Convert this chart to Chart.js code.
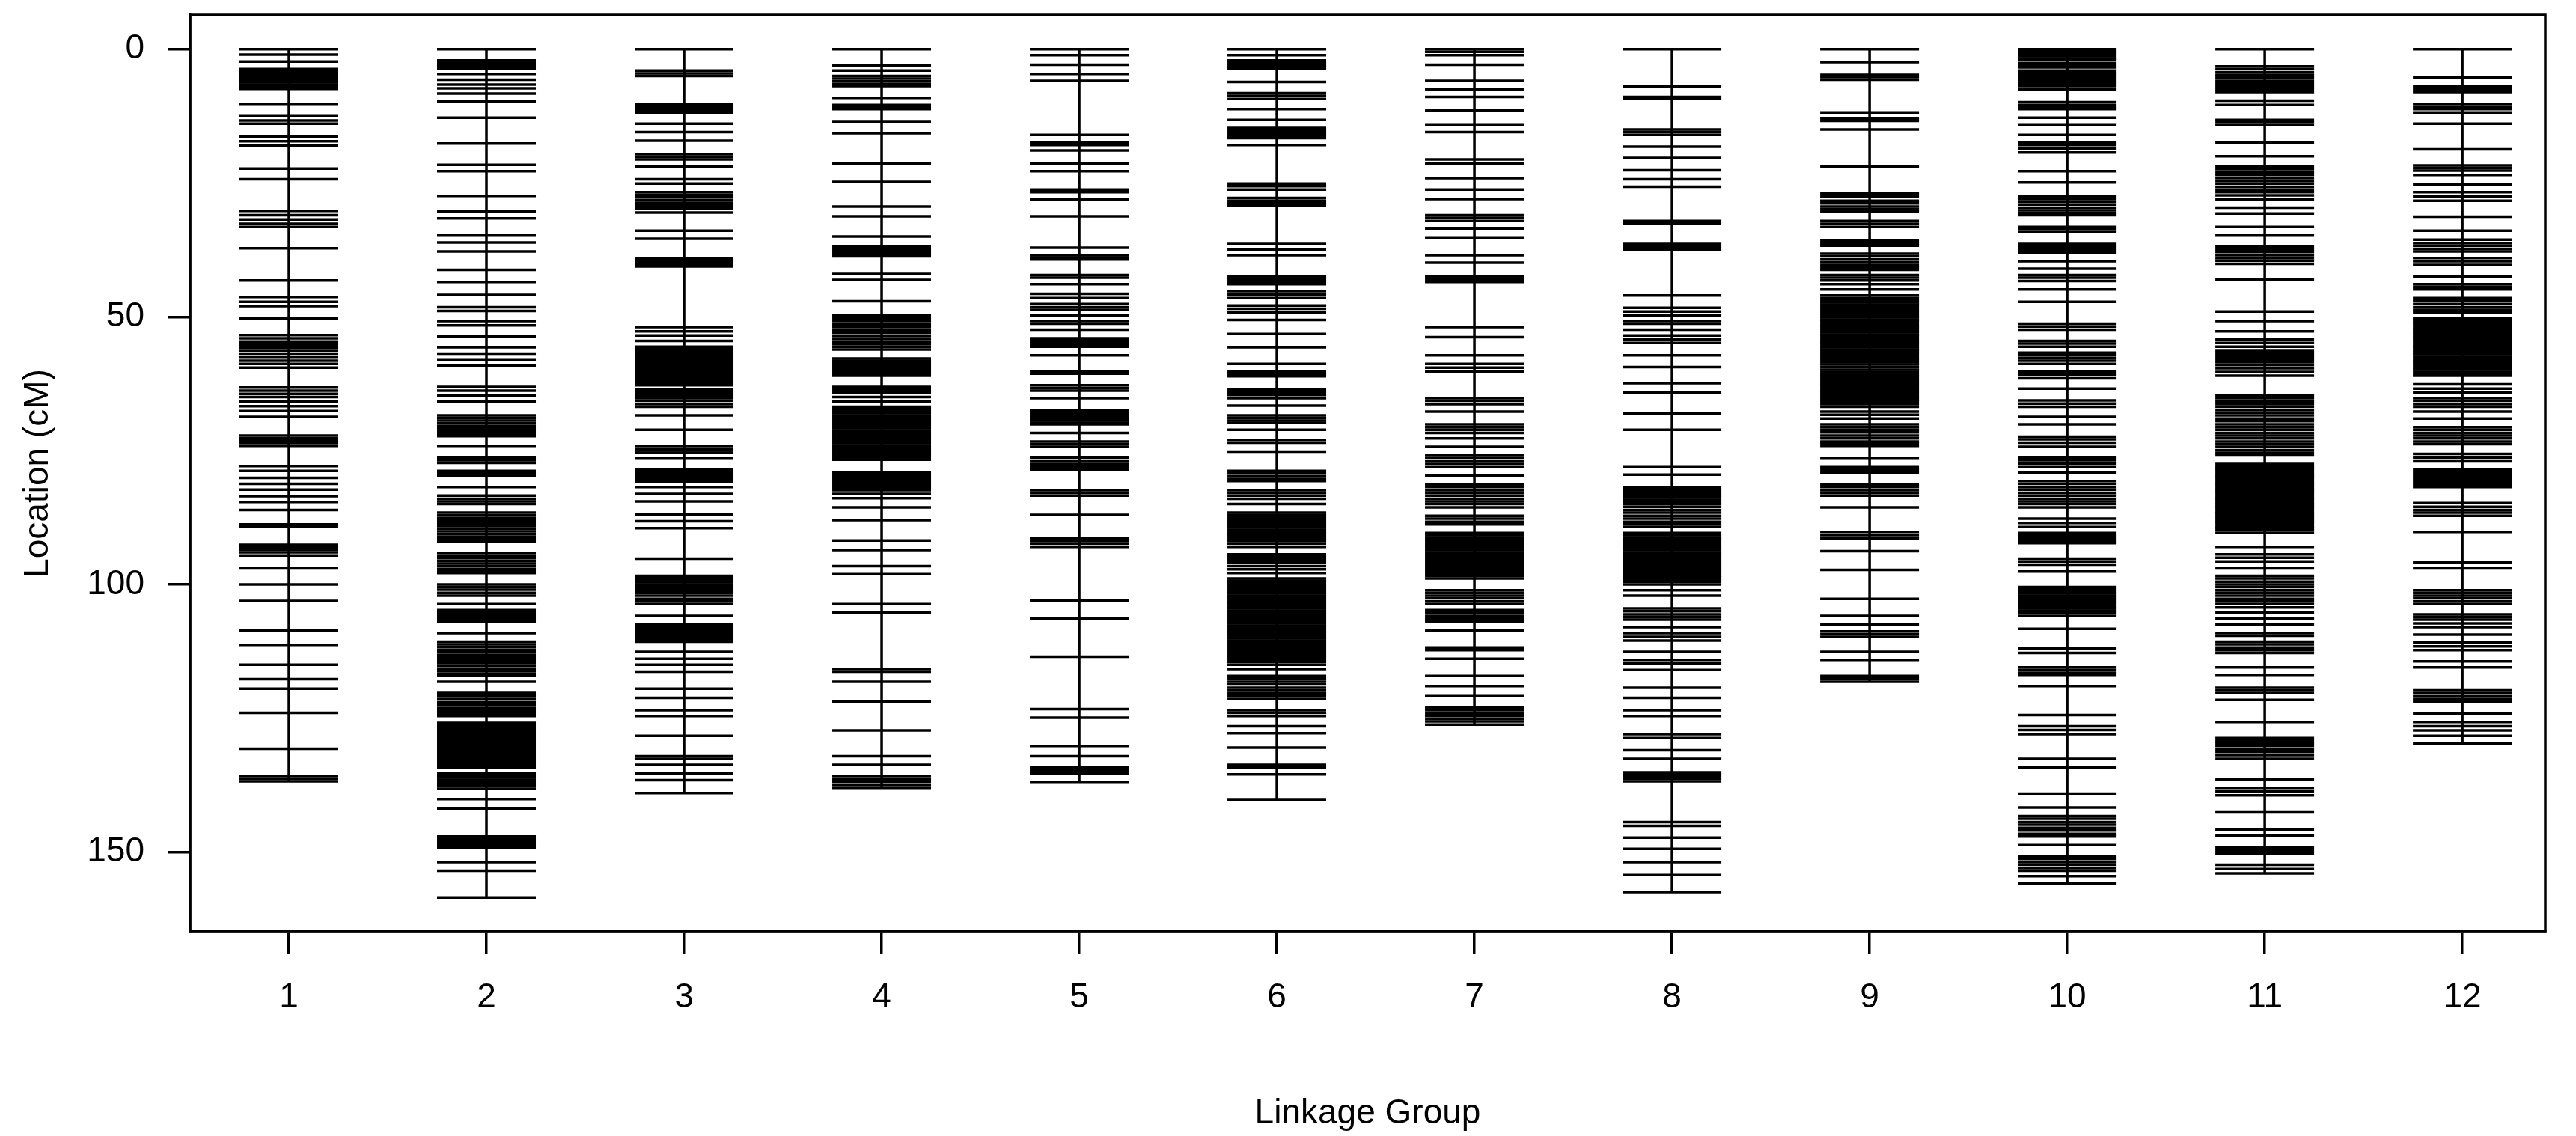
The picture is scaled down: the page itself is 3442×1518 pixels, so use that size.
<!DOCTYPE html>
<html lang="en">
<head>
<meta charset="UTF-8">
<title>Linkage Map</title>
<script src="https://cdn.jsdelivr.net/npm/chart.js"></script>
<style>
  body { margin: 0; padding: 0; background: #fff; }
  #wrap { width: 3442px; height: 1518px; }
</style>
</head>
<body>
<div id="wrap"><canvas id="myChart" width="3442" height="1518"></canvas></div>
<script>
// marker positions (cM) for each linkage group
const groups = [1, 2, 3, 4, 5, 6, 7, 8, 9, 10, 11, 12];
const yTicks = [0, 50, 100, 150];

const lg1 = [0, 1.0, 2.3, 3.7, 4.2, 4.6, 5.0, 5.4, 5.8, 6.2, 6.6, 7.0, 7.4, 10.2, 12.5, 13.3, 13.9, 16.3, 17.2, 18.0, 22.3, 24.3,
  30.2, 31.0, 31.8, 32.6, 33.2, 37.2, 43.2, 46.3, 47.2, 48.0, 50.3, 53.4, 54.0, 54.6, 55.2, 55.8, 56.4, 57.0, 57.6, 58.2, 58.8, 59.5,
  63.2, 63.8, 64.4, 65.0, 65.8, 66.7, 67.6, 68.7, 72.2, 72.7, 73.1, 73.6, 74.1, 77.9, 78.8, 80.1, 81.2, 82.3, 83.5, 84.6, 86.1,
  88.8, 89.2, 92.6, 93.1, 93.5, 94.0, 94.6, 97.0, 100.0, 103.1, 108.6, 111.3, 115.0, 117.7, 119.5, 124.0, 130.7, 135.8, 136.3, 136.8];

const lg2 = [0, 2.1, 2.5, 2.9, 3.3, 3.7, 4.6, 5.7, 6.6, 7.3, 8.3, 9.8, 12.8, 17.6, 21.6, 22.8, 27.4, 30.3, 31.6, 34.8, 36.1, 37.8,
  41.2, 43.5, 45.9, 48.2, 48.9, 50.8, 51.6, 53.7, 55.7, 57.0, 58.1, 59.1, 63.1, 63.8, 64.7, 65.8, 68.4, 68.9, 69.4, 69.9, 70.4,
  70.9, 71.4, 71.9, 72.3, 74.1, 76.3, 76.8, 77.3, 78.8, 79.3, 79.7, 81.8, 83.4, 84.0, 84.5, 85.0, 86.6, 87.1, 87.6, 88.1, 88.6,
  89.1, 89.6, 90.1, 90.6, 91.1, 91.5, 92.0, 94.1, 94.6, 95.1, 95.6, 96.1, 96.6, 97.1, 97.5, 97.9, 100.0, 100.5, 101.0, 101.6,
  102.1, 103.7, 104.8, 105.3, 105.8, 106.4, 106.9, 109.1, 110.7, 111.2, 111.7, 112.2, 112.7, 113.2, 113.7, 114.2, 114.7, 115.2,
  115.7, 116.2, 116.7, 117.1, 118.2, 120.3, 120.8, 121.4, 122.0, 122.5, 123.1, 123.6, 124.1, 124.6, 125.9, 126.3, 126.7, 127.1,
  127.5, 127.9, 128.3, 128.7, 129.1, 129.5, 129.9, 130.3, 130.7, 131.1, 131.5, 131.9, 132.3, 132.7, 133.1, 133.5, 133.9, 134.2,
  135.3, 135.7, 136.1, 136.5, 136.9, 137.3, 137.7, 138.2, 140.1, 141.9, 147.1, 147.5, 147.9, 148.3, 148.7, 149.2, 151.9, 153.5, 158.5];

const lg3 = [0, 4.0, 4.5, 5.0, 10.2, 10.6, 11.0, 11.4, 11.8, 13.9, 15.5, 17.1, 19.6, 20.1, 20.6, 21.9, 24.3, 25.1, 26.7, 27.2,
  27.7, 28.2, 28.7, 29.2, 29.7, 30.5, 33.9, 35.4, 39.0, 39.4, 39.8, 40.2, 40.6, 51.9, 52.7, 53.5, 54.5, 55.6, 56.0, 56.4, 56.8,
  57.2, 57.6, 58.0, 58.4, 58.8, 59.2, 59.6, 60.0, 60.4, 60.8, 61.2, 61.6, 62.0, 62.4, 62.8, 63.6, 64.2, 64.7, 65.2, 65.7, 66.3,
  66.8, 68.4, 71.1, 74.1, 74.6, 75.0, 75.4, 76.5, 78.6, 79.1, 79.7, 80.2, 80.8, 81.8, 83.1, 84.5, 86.9, 88.2, 89.5, 95.2, 98.4,
  98.8, 99.2, 99.6, 100.0, 100.4, 100.8, 101.2, 101.6, 102.1, 102.7, 103.2, 103.7, 105.9, 107.5, 107.9, 108.3, 108.7, 109.1,
  109.5, 109.9, 110.3, 110.7, 112.6, 113.9, 115.0, 116.3, 119.5, 121.2, 123.5, 124.6, 128.3, 132.1, 132.6, 133.7, 135.3, 136.6, 139.0];

const lg4 = [0, 3.0, 4.0, 5.0, 5.5, 6.0, 6.5, 6.9, 9.1, 10.4, 10.8, 11.2, 13.6, 15.7, 21.4, 24.8, 29.4, 31.2, 35.0, 36.9, 37.4,
  37.9, 38.3, 38.7, 42.0, 43.1, 47.1, 49.7, 50.3, 50.8, 51.4, 51.9, 52.5, 53.0, 53.6, 54.1, 54.6, 55.1, 55.6, 56.1, 57.8, 58.2,
  58.6, 59.0, 59.4, 59.8, 60.2, 60.6, 61.0, 63.1, 63.6, 64.2, 65.0, 65.8, 66.8, 67.2, 67.6, 68.0, 68.4, 68.8, 69.2, 69.6, 70.0,
  70.4, 70.8, 71.2, 71.6, 72.0, 72.4, 72.8, 73.2, 73.6, 74.0, 74.4, 74.8, 75.2, 75.6, 76.0, 76.4, 76.7, 79.1, 79.5, 79.9, 80.3,
  80.7, 81.1, 81.5, 81.9, 82.4, 83.1, 83.9, 85.6, 88.0, 91.8, 93.6, 96.6, 98.1, 103.7, 105.3, 115.8, 116.3, 118.2, 121.9, 127.3,
  132.1, 133.7, 135.8, 136.4, 136.9, 137.5, 138.0];

const lg5 = [0, 1.1, 2.9, 4.6, 5.9, 16.0, 17.4, 17.9, 18.9, 21.4, 22.8, 26.2, 26.7, 28.1, 31.2, 37.1, 38.5, 38.9, 39.3, 42.2,
  42.7, 43.9, 45.7, 46.5, 47.6, 48.2, 48.7, 49.7, 50.8, 51.3, 52.4, 54.0, 54.4, 54.8, 55.2, 55.6, 57.2, 60.2, 60.6, 62.8, 63.3,
  63.8, 65.2, 67.4, 67.8, 68.2, 68.6, 69.0, 69.4, 69.8, 70.1, 71.7, 73.3, 73.8, 74.3, 76.3, 77.0, 77.5, 77.9, 78.3, 78.6, 82.4,
  82.9, 83.4, 87.0, 91.4, 91.9, 92.4, 93.0, 103.0, 106.4, 113.5, 123.3, 124.9, 130.2, 132.1, 134.2, 134.6, 135.0, 135.3, 136.9];

const lg6 = [0, 1.1, 2.1, 2.5, 3.0, 3.4, 3.7, 6.1, 8.2, 8.7, 9.3, 11.2, 13.2, 14.7, 15.2, 15.8, 16.2, 16.6, 17.9, 25.1, 25.6,
  26.2, 27.8, 28.3, 28.8, 29.2, 36.4, 37.4, 38.5, 42.5, 43.0, 43.5, 43.9, 45.2, 45.8, 46.5, 47.9, 48.5, 49.2, 50.6, 53.2, 55.7,
  58.8, 60.2, 60.6, 61.1, 63.6, 64.1, 64.6, 65.2, 66.6, 68.4, 68.9, 69.4, 69.8, 71.1, 73.0, 73.5, 75.2, 78.8, 79.3, 79.8, 80.3,
  80.7, 82.4, 82.9, 83.4, 84.0, 85.0, 86.6, 87.0, 87.4, 87.8, 88.2, 88.6, 89.0, 89.4, 89.8, 90.2, 90.6, 91.0, 91.4, 91.9, 92.4,
  93.0, 94.4, 94.8, 95.2, 95.6, 96.0, 96.6, 97.2, 97.9, 98.9, 99.3, 99.7, 100.1, 100.5, 100.9, 101.3, 101.7, 102.1, 102.5, 102.9,
  103.3, 103.7, 104.1, 104.5, 104.9, 105.3, 105.7, 106.1, 106.5, 106.9, 107.3, 107.7, 108.1, 108.5, 108.9, 109.3, 109.7, 110.1,
  110.5, 110.9, 111.3, 111.7, 112.1, 112.5, 112.9, 113.3, 113.7, 114.1, 114.5, 115.0, 115.8, 117.1, 117.6, 118.2, 118.7, 119.3,
  119.8, 120.3, 120.8, 121.4, 123.5, 124.0, 124.6, 126.5, 127.8, 130.5, 133.7, 134.2, 135.5, 140.3];

const lg7 = [0, 0.5, 1.1, 2.9, 5.9, 7.5, 8.9, 11.4, 14.2, 15.5, 20.6, 21.4, 24.1, 26.2, 28.0, 31.0, 31.5, 32.1, 33.5, 35.3,
  38.5, 39.9, 42.5, 43.0, 43.5, 51.9, 53.8, 57.2, 58.8, 59.5, 60.2, 65.2, 65.7, 66.3, 67.7, 70.1, 70.6, 71.1, 71.7, 72.7, 74.3,
  75.9, 76.4, 77.0, 77.5, 78.1, 79.7, 81.3, 81.8, 82.4, 82.9, 83.4, 84.0, 84.5, 85.0, 85.6, 87.2, 87.7, 88.3, 88.8, 90.4, 90.8,
  91.2, 91.6, 92.0, 92.4, 92.8, 93.2, 93.6, 94.0, 94.4, 94.8, 95.2, 95.6, 96.0, 96.4, 96.8, 97.2, 97.6, 98.0, 98.4, 98.9, 101.1,
  101.6, 102.1, 102.6, 103.2, 103.7, 104.8, 105.3, 105.9, 106.4, 106.9, 108.6, 111.8, 112.3, 113.9, 117.1, 119.0, 120.9, 123.0,
  123.5, 124.1, 124.6, 125.1, 125.6, 126.2];

const lg8 = [0, 7.0, 8.9, 9.3, 15.0, 15.5, 16.0, 18.2, 20.3, 22.6, 24.3, 25.7, 32.1, 32.5, 36.4, 36.9, 37.4, 46.0, 48.3, 49.0,
  49.7, 50.8, 51.3, 52.4, 53.5, 54.2, 54.9, 57.2, 59.4, 62.4, 64.2, 68.1, 71.1, 78.1, 79.5, 81.8, 82.2, 82.6, 83.0, 83.4, 83.8,
  84.2, 84.6, 85.0, 85.5, 86.1, 86.6, 87.2, 87.7, 88.3, 88.8, 89.3, 90.4, 90.8, 91.2, 91.6, 92.0, 92.4, 92.8, 93.2, 93.6, 94.0,
  94.4, 94.8, 95.2, 95.6, 96.0, 96.4, 96.8, 97.2, 97.6, 98.0, 98.4, 98.7, 99.1, 99.5, 100.0, 101.1, 102.1, 104.5, 105.0, 105.6,
  106.1, 106.6, 108.0, 109.1, 109.8, 110.5, 112.6, 114.1, 114.8, 116.0, 119.3, 121.2, 123.5, 124.6, 128.0, 128.7, 131.0, 132.6,
  135.1, 135.5, 135.9, 136.3, 136.8, 144.4, 145.1, 147.3, 149.4, 151.9, 154.3, 157.5];

const lg9 = [0, 2.4, 4.8, 5.2, 5.7, 11.8, 13.0, 13.4, 15.0, 21.9, 27.0, 27.5, 28.3, 28.8, 29.4, 29.9, 30.3, 32.1, 32.6, 33.2,
  35.8, 36.3, 36.7, 38.2, 38.7, 39.3, 39.8, 40.3, 40.8, 41.2, 42.2, 42.7, 43.2, 43.9, 44.9, 46.0, 46.5, 46.9, 47.3, 47.7, 48.1,
  48.5, 48.9, 49.3, 49.7, 50.1, 50.5, 50.9, 51.3, 51.7, 52.1, 52.5, 52.9, 53.3, 53.7, 54.1, 54.5, 54.9, 55.3, 55.7, 56.1, 56.5,
  56.9, 57.3, 57.7, 58.1, 58.5, 58.9, 59.4, 59.9, 60.3, 60.7, 61.1, 61.5, 61.9, 62.3, 62.7, 63.1, 63.5, 63.9, 64.3, 64.7, 65.1,
  65.5, 65.9, 66.3, 66.8, 67.7, 68.3, 69.0, 70.1, 70.6, 71.1, 71.6, 72.2, 72.7, 73.3, 73.7, 74.1, 76.5, 78.1, 78.6, 79.1, 81.3,
  81.8, 82.4, 82.9, 83.4, 85.6, 90.2, 90.8, 91.4, 93.8, 97.3, 102.7, 105.9, 107.5, 108.8, 109.3, 109.8, 112.6, 114.1, 117.1,
  117.6, 118.2];

const lg10 = [0, 0.4, 0.8, 1.3, 1.7, 2.0, 2.6, 3.0, 3.4, 4.0, 4.4, 4.8, 5.3, 5.7, 6.1, 6.5, 6.9, 7.5, 9.9, 10.4, 10.8, 11.2,
  12.8, 14.2, 16.0, 17.4, 17.9, 18.6, 19.3, 22.8, 24.9, 27.5, 28.0, 28.5, 29.0, 29.6, 30.1, 30.6, 31.0, 33.2, 33.7, 34.2, 36.4,
  36.9, 37.4, 38.0, 39.6, 41.0, 42.2, 42.7, 43.3, 44.9, 47.2, 51.3, 51.8, 52.4, 54.5, 55.0, 55.6, 56.7, 57.2, 57.7, 58.2, 58.8,
  60.2, 60.8, 61.5, 63.4, 65.6, 66.2, 66.8, 68.7, 70.1, 72.4, 72.9, 73.5, 74.3, 76.3, 76.8, 77.4, 78.1, 79.1, 80.7, 81.2, 81.8,
  82.3, 82.9, 83.4, 84.0, 84.5, 85.0, 85.6, 87.7, 88.5, 89.3, 90.4, 90.9, 91.4, 91.9, 92.3, 95.2, 95.7, 96.3, 97.6, 100.5, 100.9,
  101.3, 101.7, 102.1, 102.5, 102.9, 103.3, 103.7, 104.1, 104.5, 104.9, 105.3, 105.9, 108.3, 112.0, 112.8, 115.5, 116.0, 116.5,
  116.9, 119.0, 124.4, 126.5, 127.2, 128.0, 132.6, 134.2, 139.1, 141.7, 143.3, 143.8, 144.4, 144.9, 145.5, 146.0, 146.6, 147.1,
  148.7, 150.8, 151.3, 151.9, 152.4, 153.0, 153.5, 154.5, 155.9];

const lg11 = [0, 3.2, 3.7, 4.3, 4.8, 5.3, 5.9, 6.4, 7.0, 7.5, 8.0, 9.6, 10.4, 13.2, 13.7, 14.2, 17.4, 20.0, 21.9, 22.4, 23.0,
  23.5, 24.1, 24.6, 25.1, 25.7, 26.2, 26.7, 27.3, 28.1, 29.6, 30.7, 33.2, 34.8, 36.9, 37.4, 37.9, 38.5, 39.0, 39.5, 40.1, 43.0,
  49.0, 50.8, 52.7, 54.2, 54.9, 55.6, 56.4, 56.9, 57.4, 58.0, 58.5, 59.0, 59.6, 60.3, 61.0, 64.7, 65.2, 65.8, 66.3, 66.8, 67.4,
  67.9, 68.4, 69.0, 69.5, 70.1, 70.6, 71.1, 71.7, 72.2, 72.7, 73.3, 73.8, 74.3, 74.9, 75.4, 75.9, 77.5, 77.9, 78.3, 78.7, 79.1,
  79.5, 79.9, 80.3, 80.7, 81.1, 81.5, 81.9, 82.3, 82.7, 83.1, 83.5, 83.9, 84.3, 84.7, 85.1, 85.5, 85.9, 86.3, 86.7, 87.1, 87.5,
  87.9, 88.3, 88.7, 89.1, 89.5, 89.9, 90.4, 93.0, 94.4, 95.0, 95.7, 97.0, 98.4, 98.9, 99.5, 100.0, 100.5, 101.1, 101.6, 102.1,
  102.7, 103.2, 103.7, 104.3, 105.3, 106.4, 107.5, 109.1, 109.6, 110.7, 111.2, 111.8, 112.3, 112.8, 115.5, 116.9, 119.3, 119.8,
  120.3, 121.6, 125.7, 128.7, 129.2, 129.7, 130.2, 130.8, 131.3, 131.9, 132.6, 136.4, 138.0, 138.7, 139.4, 142.6, 145.8, 146.9,
  149.2, 149.7, 150.3, 152.4, 153.2, 154.0];

const lg12 = [0, 5.3, 7.0, 7.5, 8.0, 10.2, 10.7, 11.2, 11.8, 13.9, 18.7, 21.7, 22.2, 22.7, 23.5, 25.3, 26.7, 27.5, 28.3, 31.3,
  33.9, 35.6, 36.2, 36.7, 37.3, 37.8, 39.0, 39.6, 40.3, 42.5, 43.9, 44.4, 44.9, 46.5, 47.0, 47.6, 48.2, 48.7, 49.2, 50.3, 50.7,
  51.1, 51.5, 51.9, 52.3, 52.7, 53.1, 53.5, 53.9, 54.3, 54.7, 55.1, 55.5, 55.9, 56.3, 56.7, 57.1, 57.5, 57.9, 58.3, 58.7, 59.1,
  59.5, 59.9, 60.3, 60.7, 61.0, 62.6, 63.4, 64.2, 65.2, 65.7, 66.3, 66.8, 67.7, 69.0, 70.6, 71.1, 71.7, 72.2, 72.7, 73.3, 73.8,
  75.6, 76.3, 77.0, 78.6, 79.1, 79.7, 80.2, 80.8, 81.3, 81.8, 84.8, 85.5, 86.1, 86.6, 87.2, 90.2, 95.9, 97.0, 101.1, 101.6,
  102.1, 102.6, 103.2, 103.7, 105.6, 106.1, 106.6, 107.3, 108.0, 109.4, 110.9, 111.6, 112.3, 114.4, 115.5, 119.8, 120.3, 120.9,
  121.4, 121.9, 124.1, 125.7, 126.5, 127.3, 128.3, 129.7];

const markers = [lg1, lg2, lg3, lg4, lg5, lg6, lg7, lg8, lg9, lg10, lg11, lg12];

const fontFamily = '"Liberation Sans", Arial, Helvetica, sans-serif';

// half of the marker width, a quarter of a group step either side
function markerHalfWidth(ctx) {
  const x = ctx.chart.scales.x;
  return Math.abs(x.getPixelForValue(1.25) - x.getPixelForValue(1));
}

const datasets = [];
markers.forEach((pos, i) => {
  const g = groups[i];
  // backbone of the group
  datasets.push({
    type: 'line',
    data: [{ x: g, y: 0 }, { x: g, y: Math.max(...pos) }],
    borderColor: '#000',
    borderWidth: 3.5,
    pointRadius: 0,
    fill: false
  });
  // one tick per marker
  datasets.push({
    type: 'scatter',
    data: pos.map(p => ({ x: g, y: p })),
    pointStyle: 'line',
    pointRadius: markerHalfWidth,
    pointBorderColor: '#000',
    pointBorderWidth: 3.5,
    pointBackgroundColor: '#000'
  });
});

// R-style box round the plot region
const boxPlugin = {
  id: 'box',
  afterDraw(chart) {
    const { ctx, chartArea: a } = chart;
    ctx.save();
    ctx.strokeStyle = '#000';
    ctx.lineWidth = 3.5;
    ctx.strokeRect(a.left, a.top, a.right - a.left, a.bottom - a.top);
    ctx.restore();
  }
};

const ctx = document.getElementById('myChart').getContext('2d');
new Chart(ctx, {
  data: { datasets: datasets },
  plugins: [boxPlugin],
  options: {
    responsive: false,
    devicePixelRatio: 1,
    animation: false,
    events: [],
    layout: { padding: { top: 20, right: 41, left: 0, bottom: 0 } },
    plugins: { legend: { display: false }, tooltip: { enabled: false } },
    scales: {
      x: {
        type: 'linear',
        min: 0.5,
        max: 12.42,
        afterBuildTicks: s => { s.ticks = groups.map(v => ({ value: v })); },
        afterFit: s => { s.height = 273; s.paddingLeft = 0; s.paddingRight = 0; },
        ticks: {
          autoSkip: false, maxRotation: 0, color: '#000', padding: 31,
          font: { family: fontFamily, size: 46 },
          callback: v => String(v)
        },
        grid: { drawOnChartArea: false, drawTicks: true, tickLength: 30, color: '#000', lineWidth: 3.5 },
        border: { display: true, color: '#000', width: 3.5 },
        title: {
          display: true, text: 'Linkage Group', color: '#000',
          font: { family: fontFamily, size: 46 }, padding: { top: 0, bottom: 2 }
        }
      },
      y: {
        type: 'linear',
        reverse: true,
        min: -6.4,
        max: 164.9,
        afterBuildTicks: s => { s.ticks = yTicks.map(v => ({ value: v })); },
        afterFit: s => { s.width = 254; s.paddingTop = 0; s.paddingBottom = 0; },
        ticks: {
          color: '#000', padding: 31,
          font: { family: fontFamily, size: 46 },
          callback: v => String(v)
        },
        grid: { drawOnChartArea: false, drawTicks: true, tickLength: 30, color: '#000', lineWidth: 3.5 },
        border: { display: true, color: '#000', width: 3.5 },
        title: {
          display: true, text: 'Location (cM)', color: '#000',
          font: { family: fontFamily, size: 46 }, padding: { top: 24, bottom: 0 }
        }
      }
    }
  }
});
</script>
</body>
</html>
